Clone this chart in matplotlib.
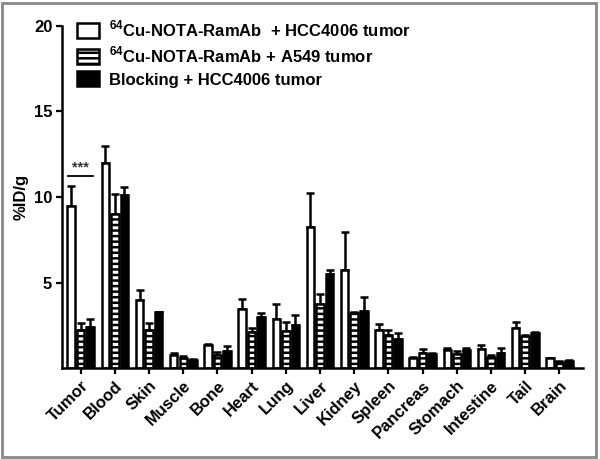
import matplotlib
matplotlib.use("Agg")
import matplotlib.pyplot as plt
import numpy as np
from matplotlib.patches import Rectangle

plt.rcParams['font.family'] = ['Liberation Sans', 'DejaVu Sans']
plt.rcParams['font.weight'] = 'bold'
plt.rcParams['mathtext.fontset'] = 'custom'
plt.rcParams['mathtext.rm'] = 'Liberation Sans:bold'
plt.rcParams['mathtext.bf'] = 'Liberation Sans:bold'
plt.rcParams['hatch.linewidth'] = 1.8

categories = ["Tumor", "Blood", "Skin", "Muscle", "Bone", "Heart", "Lung", "Liver",
              "Kidney", "Spleen", "Pancreas", "Stomach", "Intestine", "Tail", "Brain"]
hcc = [9.5, 12.0, 4.0, 0.8, 1.37, 3.47, 2.85, 8.25, 5.76, 2.25, 0.6, 1.04, 1.1, 2.34, 0.58]
hcc_err = [1.15, 1.0, 0.6, 0.1, 0.05, 0.6, 0.93, 2.0, 2.2, 0.35, 0.08, 0.17, 0.27, 0.39, 0.05]
a549 = [2.25, 9.0, 2.25, 0.6, 0.8, 2.13, 2.16, 3.78, 3.2, 1.96, 0.9, 0.83, 0.68, 1.89, 0.39]
a549_err = [0.38, 1.2, 0.42, 0.1, 0.14, 0.2, 0.55, 0.54, 0.08, 0.3, 0.22, 0.17, 0.08, 0.07, 0.05]
block = [2.44, 10.1, 3.26, 0.5, 1.02, 3.0, 2.5, 5.48, 3.32, 1.7, 0.83, 1.04, 0.9, 2.05, 0.44]
block_err = [0.44, 0.5, 0.05, 0.07, 0.3, 0.2, 0.6, 0.25, 0.84, 0.36, 0.06, 0.17, 0.3, 0.07, 0.05]
labels = [r"$^{64}$Cu-NOTA-RamAb  + HCC4006 tumor",
          r"$^{64}$Cu-NOTA-RamAb + A549 tumor",
          "Blocking + HCC4006 tumor"]

fig = plt.figure(figsize=(6, 4.59), dpi=100)
ax = fig.add_axes([0.1033, 0.1976, 0.869, 0.7464])

x = np.arange(len(categories))
w = 0.22
off = 0.28
ekw = dict(elinewidth=1.8, capthick=1.8, ecolor='black')

b1 = ax.bar(x - off, hcc, w, facecolor='white', edgecolor='black', linewidth=1.8,
            label=labels[0], zorder=2)
ax.errorbar(x - off, hcc, yerr=[np.zeros(len(hcc)), hcc_err], fmt='none', capsize=3, zorder=1, **ekw)
b2 = ax.bar(x, a549, w, facecolor='white', edgecolor='black', linewidth=1.8, hatch='---',
            label=labels[1], zorder=2)
ax.errorbar(x, a549, yerr=[np.zeros(len(a549)), a549_err], fmt='none', capsize=3, zorder=1, **ekw)
b3 = ax.bar(x + off, block, w, facecolor='black', edgecolor='black', linewidth=1.8,
            label=labels[2], zorder=2)
ax.errorbar(x + off, block, yerr=[np.zeros(len(block)), block_err], fmt='none', capsize=3, zorder=1, **ekw)

ax.set_xlim(-0.547, 14.7)
ax.set_ylim(0, 20)
ax.set_yticks([5, 10, 15, 20])
ax.set_yticklabels(["5", "10", "15", "20"], fontsize=12, fontweight='bold')
ax.set_xticks(x)
ax.set_xticklabels(categories, rotation=45, ha='right', rotation_mode='anchor',
                   fontsize=12, fontweight='bold')
ax.tick_params(axis='both', width=1.6, length=4, direction='out', pad=3)
for s in ['top', 'right']:
    ax.spines[s].set_visible(False)
for s in ['left', 'bottom']:
    ax.spines[s].set_linewidth(1.8)
ax.set_ylabel("%ID/g", fontsize=12, fontweight='bold', labelpad=4)

# significance marker
ax.plot([-0.37, 0.35], [11.2, 11.2], color='black', lw=1.3)
ax.text(-0.01, 11.3, "***", ha='center', va='bottom', fontsize=10.5, color='#333333')

leg = ax.legend(handles=[b1, b2, b3], loc='upper left', bbox_to_anchor=(0.01, 1.05),
                frameon=False, fontsize=12, handlelength=1.3, handleheight=1.0,
                labelspacing=0.35, handletextpad=0.6, borderaxespad=0.2)

fig.patches.append(Rectangle((0.003, 0.004), 0.99, 0.99, transform=fig.transFigure,
                             fill=False, edgecolor='#888888', linewidth=2))

fig.savefig("out.png", dpi=100)
